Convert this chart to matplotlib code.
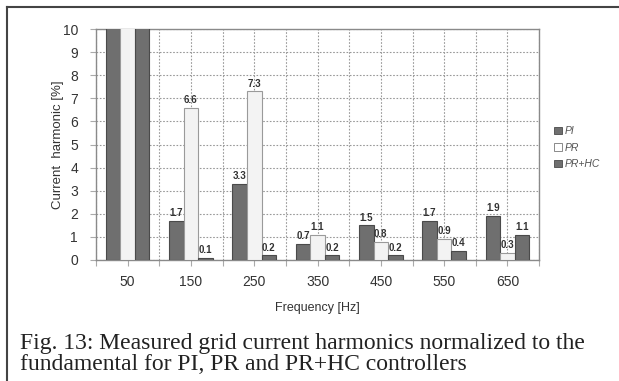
import numpy as np
import matplotlib
matplotlib.use("Agg")
import matplotlib.pyplot as plt
from matplotlib.lines import Line2D
from matplotlib.patches import Patch

freqs = ["50", "150", "250", "350", "450", "550", "650"]
pi_vals = [100, 1.7, 3.3, 0.7, 1.5, 1.7, 1.9]
pr_vals = [100, 6.6, 7.3, 1.1, 0.8, 0.9, 0.3]
prhc_vals = [100, 0.1, 0.2, 0.2, 0.2, 0.4, 1.1]
series_names = ["PI", "PR", "PR+HC"]
caption = ("Fig. 13: Measured grid current harmonics normalized to the\n"
           "fundamental for PI, PR and PR+HC controllers")

plt.rcParams["font.family"] = ["Liberation Sans", "DejaVu Sans"]

fig = plt.figure(figsize=(6.19, 3.81), dpi=100)
ax = fig.add_axes([0.155, 0.3176, 0.716, 0.606])

dark = "#6f6f6f"
light = "#f3f3f3"
edge = "#4a4a4a"
w = 0.23
x = np.arange(len(freqs))

series = [pi_vals, pr_vals, prhc_vals]
faces = [dark, light, dark]
edges = [edge, "#9a9a9a", edge]
for i, (vals, fc, ec) in enumerate(zip(series, faces, edges)):
    pos = x + (i - 1) * w
    ax.bar(pos, vals, width=w, color=fc, edgecolor=ec, linewidth=0.8, zorder=3)
    for p, v in zip(pos, vals):
        if v <= 10:
            ax.text(p, v + 0.12, f"{v:.1f}", ha="center", va="bottom",
                    fontsize=7, fontweight="bold", color="#333333", zorder=4)

# grid lines every half category: labels only at the centres
ticks = np.arange(-0.5, len(freqs), 0.5)
labels = [freqs[int(t)] if t == int(t) else "" for t in ticks]
ax.set_xlim(-0.5, len(freqs) - 0.5)
ax.set_ylim(0, 10)
ax.set_yticks(range(0, 11))
ax.set_xticks(ticks)
ax.set_xticklabels(labels)
ax.tick_params(axis="both", length=4, width=0.8, color="#aaaaaa",
               labelsize=10, labelcolor="#333333")
ax.tick_params(axis="y", pad=9)
ax.tick_params(axis="x", pad=7)
ax.grid(True, linestyle=(0, (1.5, 1.5)), color="#999999", linewidth=0.8,
        zorder=0)
for s in ax.spines.values():
    s.set_color("#8a8a8a")
    s.set_linewidth(1.0)

ax.set_ylabel("Current  harmonic [%]", fontsize=9.5, color="#333333")
ax.yaxis.set_label_coords(-0.072, 0.5)
ax.set_xlabel("Frequency [Hz]", fontsize=9, color="#333333", labelpad=9)

handles = [Patch(facecolor=dark, edgecolor=edge, linewidth=0.6),
           Patch(facecolor="white", edgecolor="#777777", linewidth=0.6),
           Patch(facecolor=dark, edgecolor=edge, linewidth=0.6)]
leg = fig.legend(handles, series_names, loc="upper left",
                 bbox_to_anchor=(545 / 619, 1 - 117 / 381), frameon=False,
                 handlelength=0.7, handleheight=0.7, handletextpad=0.3,
                 labelspacing=0.6, prop={"size": 7.5, "style": "italic"})
for t in leg.get_texts():
    t.set_color("#555555")

fig.text(20 / 619, 1 - 370 / 381, caption, fontsize=17,
         family=["Liberation Serif", "DejaVu Serif"], color="#222222",
         va="baseline", ha="left", linespacing=0.98)

fig.add_artist(Line2D([7 / 619, 7 / 619], [0, 1 - 6.5 / 381],
                      transform=fig.transFigure, color="#444444", lw=1.5))
fig.add_artist(Line2D([7 / 619, 1], [1 - 6.5 / 381, 1 - 6.5 / 381],
                      transform=fig.transFigure, color="#444444", lw=1.5))

fig.savefig("out.png", dpi=100)
